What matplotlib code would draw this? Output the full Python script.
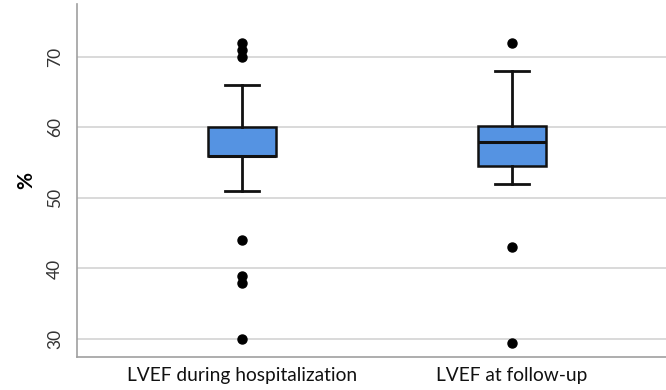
import numpy as np
import matplotlib.pyplot as plt

# box statistics (LVEF, %)
labels = ['LVEF during hospitalization', 'LVEF at follow-up']
q1 = [56, 54.5]
med = [56, 58]
q3 = [60, 60.2]
whislo = [51, 52]
whishi = [66, 68]
fliers = [[72, 71, 70, 44, 39, 38, 30], [72, 43, 29.4]]

stats = []
for i in range(len(labels)):
    stats.append(dict(label=labels[i], q1=q1[i], med=med[i], q3=q3[i],
                      whislo=whislo[i], whishi=whishi[i],
                      fliers=np.array(fliers[i])))

plt.rcParams['font.family'] = ['Lato', 'DejaVu Sans']

fig = plt.figure(figsize=(6.66, 3.9), dpi=100)
ax = fig.add_axes([0.1156, 0.0846, 0.8844, 0.9051])

ax.bxp(stats, positions=[0, 1], widths=0.252, patch_artist=True,
       boxprops=dict(facecolor='#5593e2', edgecolor='#111111', linewidth=1.8),
       medianprops=dict(color='#111111', linewidth=2.2),
       whiskerprops=dict(color='#111111', linewidth=2),
       capprops=dict(color='#111111', linewidth=2),
       capwidths=0.126,
       flierprops=dict(marker='o', markerfacecolor='black', markeredgecolor='black',
                       markersize=6.5))

ax.set_xlim(-0.612, 1.573)
ax.set_ylim(27.45, 77.5)
ax.set_yticks([30, 40, 50, 60, 70])
ax.yaxis.grid(True, color='#d3d3d3', linewidth=1.2)
ax.set_axisbelow(True)

for s in ['top', 'right']:
    ax.spines[s].set_visible(False)
for s in ['left', 'bottom']:
    ax.spines[s].set_color('#a0a0a0')
    ax.spines[s].set_linewidth(1.2)

ax.tick_params(axis='both', length=0)
ax.tick_params(axis='y', labelrotation=90, labelsize=12.5, labelcolor='#333333', pad=10)
ax.tick_params(axis='x', labelsize=13.8, labelcolor='#111111', pad=7)
for t in ax.get_yticklabels():
    t.set_va('center')

ax.set_ylabel('%', fontsize=15, fontweight='bold', labelpad=8)

fig.savefig('out.png', dpi=100)
